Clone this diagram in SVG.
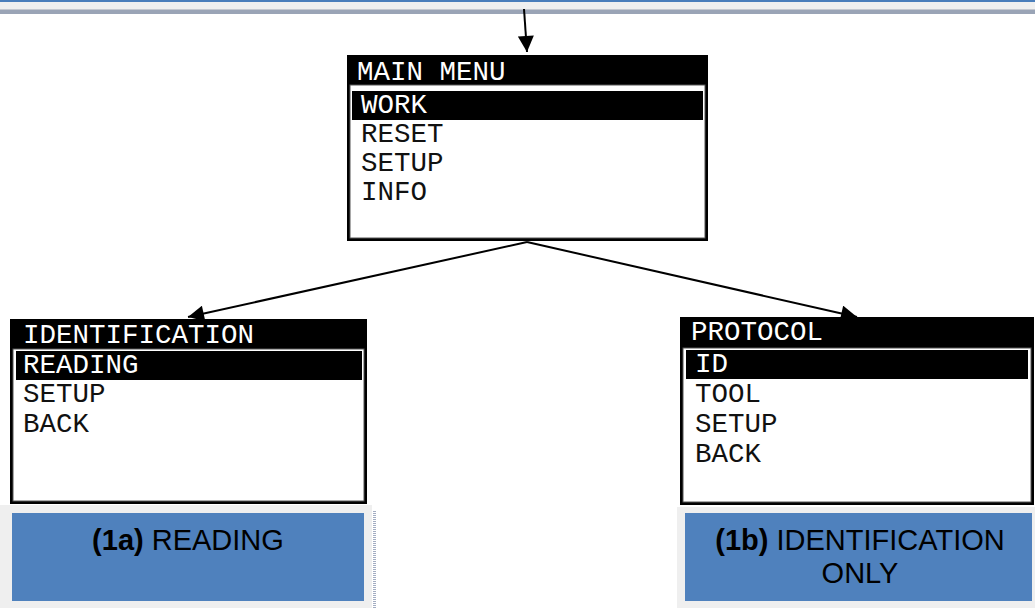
<svg xmlns="http://www.w3.org/2000/svg" width="1035" height="608" viewBox="0 0 1035 608">
<defs>
<style>
.frame{fill:#000}
.inner{fill:#fff;stroke:#555;stroke-width:1}
.hl{fill:#000}
.lcd{font-family:"Liberation Mono","DejaVu Sans Mono",monospace;font-size:27.5px;fill:#111}
.inv{fill:#fff}
.cap{font-family:"Liberation Sans",Arial,sans-serif;font-size:29px;fill:#000;text-anchor:middle}
.conn{stroke:#000;stroke-width:2;fill:none}
</style>
<marker id="ah" viewBox="0 0 10 10" refX="10" refY="5" markerUnits="userSpaceOnUse" markerWidth="17" markerHeight="16" orient="auto">
<path d="M0,0 L10,5 L0,10 z" fill="#000"/>
</marker>
</defs>
<rect x="0" y="0" width="1035" height="608" fill="#fff"/>
<g id="topband">
<rect x="0" y="0" width="1035" height="2" fill="#4a7ebb"/>
<rect x="0" y="2" width="1035" height="7" fill="#f0f0f0"/>
<rect x="0" y="9" width="1035" height="1" fill="#c4c8d0"/>
<rect x="0" y="10" width="1035" height="4" fill="#9aa4b6"/>
</g>
<g id="main-menu">
<rect class="frame" x="347" y="55" width="361" height="186"/>
<rect class="inner" x="350" y="85" width="355" height="153"/>
<rect class="hl" x="352" y="91" width="351" height="29"/>
<text class="lcd inv" x="357" y="80">MAIN MENU</text>
<text class="lcd inv" x="361" y="113">WORK</text>
<text class="lcd" x="361" y="142">RESET</text>
<text class="lcd" x="361" y="171">SETUP</text>
<text class="lcd" x="361" y="200">INFO</text>
</g>
<g id="identification">
<rect class="frame" x="10" y="319" width="357" height="185"/>
<rect class="inner" x="13" y="349" width="351" height="152"/>
<rect class="hl" x="16" y="351" width="346" height="29"/>
<text class="lcd inv" x="23" y="343">IDENTIFICATION</text>
<text class="lcd inv" x="23" y="373">READING</text>
<text class="lcd" x="23" y="402">SETUP</text>
<text class="lcd" x="23" y="432">BACK</text>
</g>
<g id="protocol">
<rect class="frame" x="680" y="317" width="354" height="188"/>
<rect class="inner" x="683" y="348" width="348" height="154"/>
<rect class="hl" x="686" y="350" width="342" height="29"/>
<text class="lcd inv" x="691" y="340">PROTOCOL</text>
<text class="lcd inv" x="695" y="372">ID</text>
<text class="lcd" x="695" y="402">TOOL</text>
<text class="lcd" x="695" y="432">SETUP</text>
<text class="lcd" x="695" y="462">BACK</text>
</g>
<g id="label-1a">
<rect x="0" y="505" width="372" height="103" fill="#efefef"/>
<rect x="12" y="513" width="352" height="88" fill="#4f81bd"/>
<line x1="374.5" y1="511" x2="374.5" y2="608" stroke="#a3adc2" stroke-width="3" stroke-dasharray="1 1"/>
<text class="cap" x="188" y="550"><tspan font-weight="bold">(1a)</tspan> READING</text>
</g>
<g id="label-1b">
<rect x="677" y="507" width="358" height="101" fill="#efefef"/>
<rect x="685" y="513" width="347" height="88" fill="#4f81bd"/>
<text class="cap" x="860" y="550"><tspan font-weight="bold">(1b)</tspan> IDENTIFICATION</text>
<text class="cap" x="860" y="583">ONLY</text>
</g>
<g id="connectors">
<line class="conn" x1="524" y1="9" x2="527" y2="52" marker-end="url(#ah)"/>
<line class="conn" x1="527" y1="242" x2="188" y2="317" marker-end="url(#ah)"/>
<line class="conn" x1="527" y1="242" x2="857" y2="317" marker-end="url(#ah)"/>
</g>
</svg>
